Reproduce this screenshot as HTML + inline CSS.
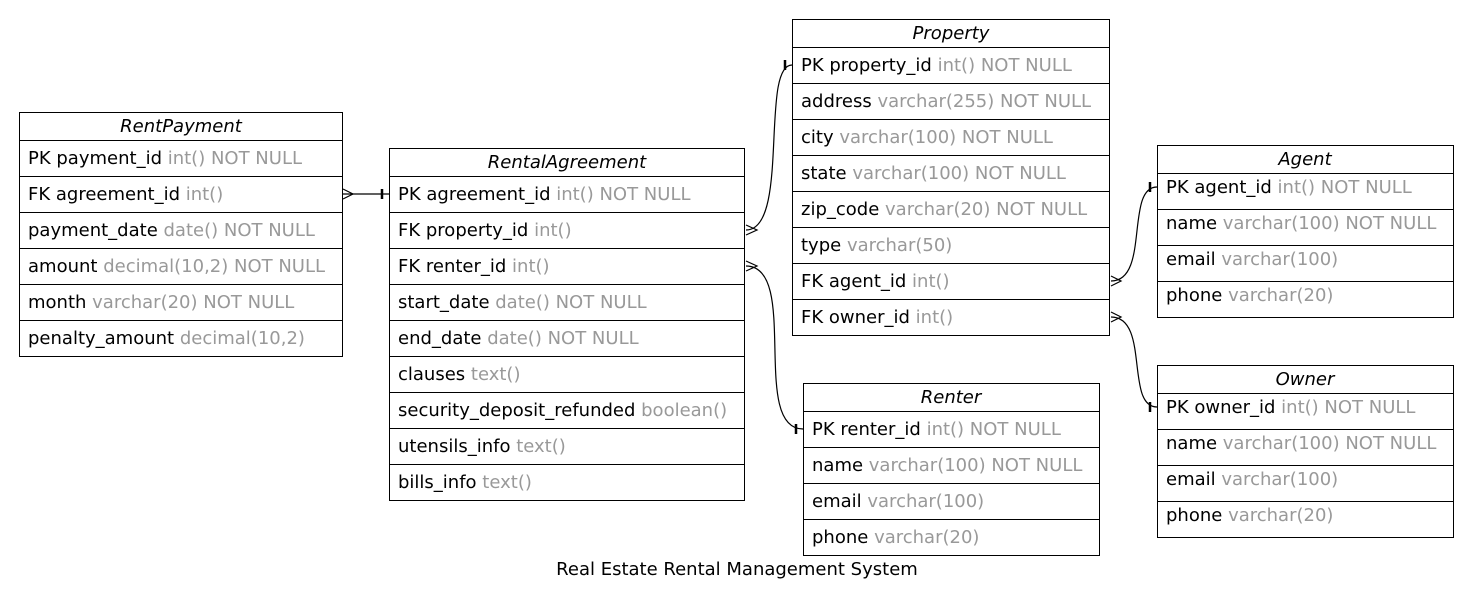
<!DOCTYPE html>
<html><head><meta charset="utf-8"><style>
html,body{margin:0;padding:0;background:#fff;}
svg{display:block;}
text{font-family:"DejaVu Sans","Liberation Sans",sans-serif;font-size:18px;fill:#000;}
.g{fill:#999;}
.h{font-style:italic;}
.b{fill:none;stroke:#000;stroke-width:1;}
.e{fill:none;stroke:#000;stroke-width:1.2;}
</style></head><body>
<svg width="1473" height="605" viewBox="0 0 1473 605" xmlns="http://www.w3.org/2000/svg">
<!-- RentPayment -->
<rect class="b" x="19.5" y="112.5" width="323" height="244"/>
<line class="b" x1="19" y1="140.5" x2="342" y2="140.5"/>
<line class="b" x1="19" y1="176.5" x2="342" y2="176.5"/>
<line class="b" x1="19" y1="212.5" x2="342" y2="212.5"/>
<line class="b" x1="19" y1="248.5" x2="342" y2="248.5"/>
<line class="b" x1="19" y1="284.5" x2="342" y2="284.5"/>
<line class="b" x1="19" y1="320.5" x2="342" y2="320.5"/>
<text class="h" x="181" y="132" text-anchor="middle">RentPayment</text>
<text x="28" y="164">PK payment_id <tspan class="g">int() NOT NULL</tspan></text>
<text x="28" y="200">FK agreement_id <tspan class="g">int()</tspan></text>
<text x="28" y="236">payment_date <tspan class="g">date() NOT NULL</tspan></text>
<text x="28" y="272">amount <tspan class="g">decimal(10,2) NOT NULL</tspan></text>
<text x="28" y="308">month <tspan class="g">varchar(20) NOT NULL</tspan></text>
<text x="28" y="344">penalty_amount <tspan class="g">decimal(10,2)</tspan></text>

<!-- RentalAgreement -->
<rect class="b" x="389.5" y="148.5" width="355" height="352"/>
<line class="b" x1="389" y1="176.5" x2="745" y2="176.5"/>
<line class="b" x1="389" y1="212.5" x2="745" y2="212.5"/>
<line class="b" x1="389" y1="248.5" x2="745" y2="248.5"/>
<line class="b" x1="389" y1="284.5" x2="745" y2="284.5"/>
<line class="b" x1="389" y1="320.5" x2="745" y2="320.5"/>
<line class="b" x1="389" y1="356.5" x2="745" y2="356.5"/>
<line class="b" x1="389" y1="392.5" x2="745" y2="392.5"/>
<line class="b" x1="389" y1="428.5" x2="745" y2="428.5"/>
<line class="b" x1="389" y1="464.5" x2="745" y2="464.5"/>
<text class="h" x="567" y="168" text-anchor="middle">RentalAgreement</text>
<text x="398" y="200">PK agreement_id <tspan class="g">int() NOT NULL</tspan></text>
<text x="398" y="236">FK property_id <tspan class="g">int()</tspan></text>
<text x="398" y="272">FK renter_id <tspan class="g">int()</tspan></text>
<text x="398" y="308">start_date <tspan class="g">date() NOT NULL</tspan></text>
<text x="398" y="344">end_date <tspan class="g">date() NOT NULL</tspan></text>
<text x="398" y="380">clauses <tspan class="g">text()</tspan></text>
<text x="398" y="416">security_deposit_refunded <tspan class="g">boolean()</tspan></text>
<text x="398" y="452">utensils_info <tspan class="g">text()</tspan></text>
<text x="398" y="488">bills_info <tspan class="g">text()</tspan></text>

<!-- Property -->
<rect class="b" x="792.5" y="19.5" width="317" height="316"/>
<line class="b" x1="792" y1="47.5" x2="1110" y2="47.5"/>
<line class="b" x1="792" y1="83.5" x2="1110" y2="83.5"/>
<line class="b" x1="792" y1="119.5" x2="1110" y2="119.5"/>
<line class="b" x1="792" y1="155.5" x2="1110" y2="155.5"/>
<line class="b" x1="792" y1="191.5" x2="1110" y2="191.5"/>
<line class="b" x1="792" y1="227.5" x2="1110" y2="227.5"/>
<line class="b" x1="792" y1="263.5" x2="1110" y2="263.5"/>
<line class="b" x1="792" y1="299.5" x2="1110" y2="299.5"/>
<text class="h" x="951" y="39" text-anchor="middle">Property</text>
<text x="801" y="71">PK property_id <tspan class="g">int() NOT NULL</tspan></text>
<text x="801" y="107">address <tspan class="g">varchar(255) NOT NULL</tspan></text>
<text x="801" y="143">city <tspan class="g">varchar(100) NOT NULL</tspan></text>
<text x="801" y="179">state <tspan class="g">varchar(100) NOT NULL</tspan></text>
<text x="801" y="215">zip_code <tspan class="g">varchar(20) NOT NULL</tspan></text>
<text x="801" y="251">type <tspan class="g">varchar(50)</tspan></text>
<text x="801" y="287">FK agent_id <tspan class="g">int()</tspan></text>
<text x="801" y="323">FK owner_id <tspan class="g">int()</tspan></text>

<!-- Agent -->
<rect class="b" x="1157.5" y="145.5" width="296" height="172"/>
<line class="b" x1="1157" y1="173.5" x2="1454" y2="173.5"/>
<line class="b" x1="1157" y1="209.5" x2="1454" y2="209.5"/>
<line class="b" x1="1157" y1="245.5" x2="1454" y2="245.5"/>
<line class="b" x1="1157" y1="281.5" x2="1454" y2="281.5"/>
<text class="h" x="1305" y="165" text-anchor="middle">Agent</text>
<text x="1166" y="193">PK agent_id <tspan class="g">int() NOT NULL</tspan></text>
<text x="1166" y="229">name <tspan class="g">varchar(100) NOT NULL</tspan></text>
<text x="1166" y="265">email <tspan class="g">varchar(100)</tspan></text>
<text x="1166" y="301">phone <tspan class="g">varchar(20)</tspan></text>

<!-- Owner -->
<rect class="b" x="1157.5" y="365.5" width="296" height="172"/>
<line class="b" x1="1157" y1="393.5" x2="1454" y2="393.5"/>
<line class="b" x1="1157" y1="429.5" x2="1454" y2="429.5"/>
<line class="b" x1="1157" y1="465.5" x2="1454" y2="465.5"/>
<line class="b" x1="1157" y1="501.5" x2="1454" y2="501.5"/>
<text class="h" x="1305" y="385" text-anchor="middle">Owner</text>
<text x="1166" y="413">PK owner_id <tspan class="g">int() NOT NULL</tspan></text>
<text x="1166" y="449">name <tspan class="g">varchar(100) NOT NULL</tspan></text>
<text x="1166" y="485">email <tspan class="g">varchar(100)</tspan></text>
<text x="1166" y="521">phone <tspan class="g">varchar(20)</tspan></text>

<!-- Renter -->
<rect class="b" x="803.5" y="383.5" width="296" height="172"/>
<line class="b" x1="803" y1="411.5" x2="1100" y2="411.5"/>
<line class="b" x1="803" y1="447.5" x2="1100" y2="447.5"/>
<line class="b" x1="803" y1="483.5" x2="1100" y2="483.5"/>
<line class="b" x1="803" y1="519.5" x2="1100" y2="519.5"/>
<text class="h" x="951" y="403" text-anchor="middle">Renter</text>
<text x="812" y="435">PK renter_id <tspan class="g">int() NOT NULL</tspan></text>
<text x="812" y="471">name <tspan class="g">varchar(100) NOT NULL</tspan></text>
<text x="812" y="507">email <tspan class="g">varchar(100)</tspan></text>
<text x="812" y="543">phone <tspan class="g">varchar(20)</tspan></text>

<!-- Edges -->
<path class="e" d="M343,194 L389,194"/>
<path class="e" d="M343,189 L353,194 L343,199"/>
<path class="e" style="stroke-width:2.5" d="M382,189 L382,199"/>
<path class="e" d="M746,230 C790,230 760,65 792,65"/>
<path class="e" d="M746,225 L757,230 L746,235"/>
<path class="e" style="stroke-width:2.5" d="M785,60 L785,70"/>
<path class="e" d="M746,266 C800,266 750,429 803,429"/>
<path class="e" d="M746,261 L757,266 L746,271"/>
<path class="e" style="stroke-width:2.5" d="M796,424 L796,434"/>
<path class="e" d="M1111,281 C1150,281 1125,187 1157,187"/>
<path class="e" d="M1111,276 L1121,281 L1111,286"/>
<path class="e" style="stroke-width:2.5" d="M1150,182 L1150,192"/>
<path class="e" d="M1111,317 C1150,317 1125,407 1157,407"/>
<path class="e" d="M1111,312 L1121,317 L1111,322"/>
<path class="e" style="stroke-width:2.5" d="M1150,402 L1150,412"/>

<text x="737" y="575" text-anchor="middle">Real Estate Rental Management System</text>
</svg>
</body></html>
